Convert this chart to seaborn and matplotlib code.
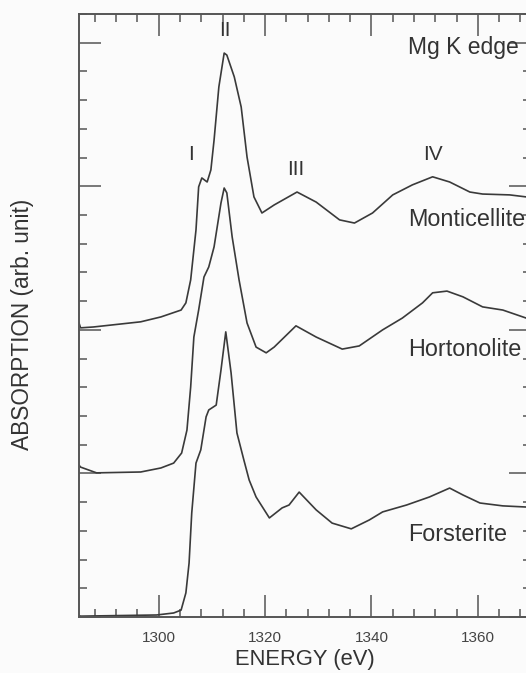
import matplotlib
matplotlib.use("Agg")
import matplotlib.pyplot as plt
import seaborn as sns
import pandas as pd
from matplotlib.ticker import MultipleLocator, FixedLocator

# ---- data ----
mont_x = [1285.0, 1285.3, 1287.7, 1296.6, 1300.4, 1304.2, 1305.1, 1306.0, 1307.0, 1307.5, 1308.1,
          1309.1, 1309.8, 1310.4, 1311.3, 1312.3, 1312.8, 1314.2, 1315.5, 1316.6, 1317.9,
          1319.4, 1321.7, 1326.0, 1329.6, 1334.0, 1336.8, 1340.2, 1344.0, 1347.7, 1351.5,
          1354.7, 1358.5, 1360.9, 1366.0, 1369.1, 1370.0]
mont_y = [10.24, 10.07, 10.10, 10.28, 10.45, 10.69, 10.94, 11.74, 13.48, 14.98, 15.29,
          15.15, 15.57, 16.61, 18.46, 19.64, 19.57, 18.81, 17.76, 16.02, 14.63,
          14.07, 14.35, 14.80, 14.45, 13.83, 13.72, 14.07, 14.70, 15.05, 15.33,
          15.15, 14.80, 14.73, 14.70, 14.63, 14.59]

hort_x = [1285.0, 1285.3, 1288.3, 1296.6, 1300.4, 1302.8, 1304.3, 1305.3, 1306.0, 1306.6, 1307.5,
          1308.5, 1309.4, 1310.4, 1311.7, 1312.3, 1312.8, 1313.8, 1315.1, 1316.6, 1318.3,
          1320.2, 1321.7, 1325.8, 1329.6, 1334.5, 1337.7, 1342.1, 1345.8, 1349.6, 1351.5,
          1354.2, 1357.2, 1360.9, 1364.7, 1369.1, 1370.0]
hort_y = [5.29, 5.22, 5.02, 5.05, 5.19, 5.36, 5.71, 6.51, 8.01, 9.75, 10.69,
          11.84, 12.19, 12.89, 14.42, 14.94, 14.77, 13.24, 11.74, 10.24, 9.40,
          9.20, 9.40, 10.14, 9.75, 9.33, 9.44, 10.00, 10.41, 10.94, 11.29,
          11.35, 11.15, 10.80, 10.69, 10.41, 10.34]

fors_x = [1285.0, 1285.3, 1299.6, 1302.8, 1304.2, 1305.1, 1305.7, 1306.2, 1307.0, 1307.9, 1308.9,
          1309.4, 1310.8, 1311.7, 1312.6, 1313.6, 1314.7, 1316.0, 1317.0, 1318.3, 1320.8,
          1323.2, 1324.5, 1326.4, 1329.6, 1332.6, 1336.2, 1339.6, 1342.1, 1346.6, 1350.9,
          1354.7, 1357.2, 1360.4, 1364.7, 1369.1, 1370.0]
fors_y = [0.05, 0.03, 0.07, 0.14, 0.24, 0.84, 1.88, 3.62, 5.36, 5.82, 6.97,
          7.21, 7.38, 8.60, 9.93, 8.50, 6.41, 5.47, 4.77, 4.18, 3.45,
          3.80, 3.90, 4.35, 3.73, 3.27, 3.07, 3.38, 3.66, 3.90, 4.18,
          4.49, 4.25, 3.97, 3.87, 3.83, 3.83]

sample_names = ["Monticellite", "Hortonolite", "Forsterite"]
sample_label_y = [13.83, 9.30, 2.86]
peak_names = ["I", "II", "III", "IV"]
peak_x = [1306.0, 1312.5, 1325.8, 1351.5]
peak_y = [16.09, 20.41, 15.60, 16.09]
xtick_values = [1300, 1320, 1340, 1360]

# ---- style ----
sns.set_style("ticks")
plt.rcParams["font.family"] = ["Liberation Sans", "DejaVu Sans"]

W, H = 526, 673
fig = plt.figure(figsize=(W / 100, H / 100), dpi=100)
fig.patch.set_facecolor("#fbfbfb")
ax = fig.add_axes([79 / W, (H - 617) / H, (531 - 79) / W, (617 - 14) / H])
ax.set_facecolor("#fbfbfb")

line_col = "#3a3a3a"
frames = [
    pd.DataFrame({"energy": mont_x, "abs": mont_y}),
    pd.DataFrame({"energy": hort_x, "abs": hort_y}),
    pd.DataFrame({"energy": fors_x, "abs": fors_y}),
]
for df in frames:
    sns.lineplot(data=df, x="energy", y="abs", ax=ax, color=line_col, linewidth=1.2,
                 sort=False, estimator=None)

ax.set_xlim(1285, 1370)
ax.set_ylim(0, 21)

ax.xaxis.set_major_locator(FixedLocator(xtick_values))
ax.xaxis.set_minor_locator(MultipleLocator(4))
ax.yaxis.set_major_locator(MultipleLocator(5))
ax.yaxis.set_minor_locator(MultipleLocator(1))
ax.set_yticklabels([])

for s in ax.spines.values():
    s.set_visible(True)
    s.set_color("#555555")
    s.set_linewidth(1.4)

ax.tick_params(which="both", direction="in", top=True, right=True, color="#555555")
ax.tick_params(which="major", length=16, width=1.1, labelsize=11, labelcolor="#444444", pad=10)
ax.tick_params(which="minor", length=6, width=1.1)
ax.tick_params(axis="y", which="major", labelleft=False)

ax.set_xlabel("ENERGY (eV)", fontsize=15.8, color="#333333", labelpad=3)
ax.set_ylabel("ABSORPTION (arb. unit)", fontsize=16.3, color="#333333")
ax.yaxis.set_label_coords(-0.100, 0.486)

txt_col = "#333333"
ax.text(1346.9, 19.85, "Mg K edge", fontsize=16.5, color=txt_col, ha="left", va="center",
        clip_on=False)
for name, yy in zip(sample_names, sample_label_y):
    ax.text(1346.9, yy, name, fontsize=16.8, color=txt_col, ha="left", va="center")
for name, xx, yy in zip(peak_names, peak_x, peak_y):
    ax.text(xx, yy, name, fontsize=15, color=txt_col, ha="center", va="center")

fig.savefig("out.png", dpi=100, facecolor=fig.get_facecolor())
